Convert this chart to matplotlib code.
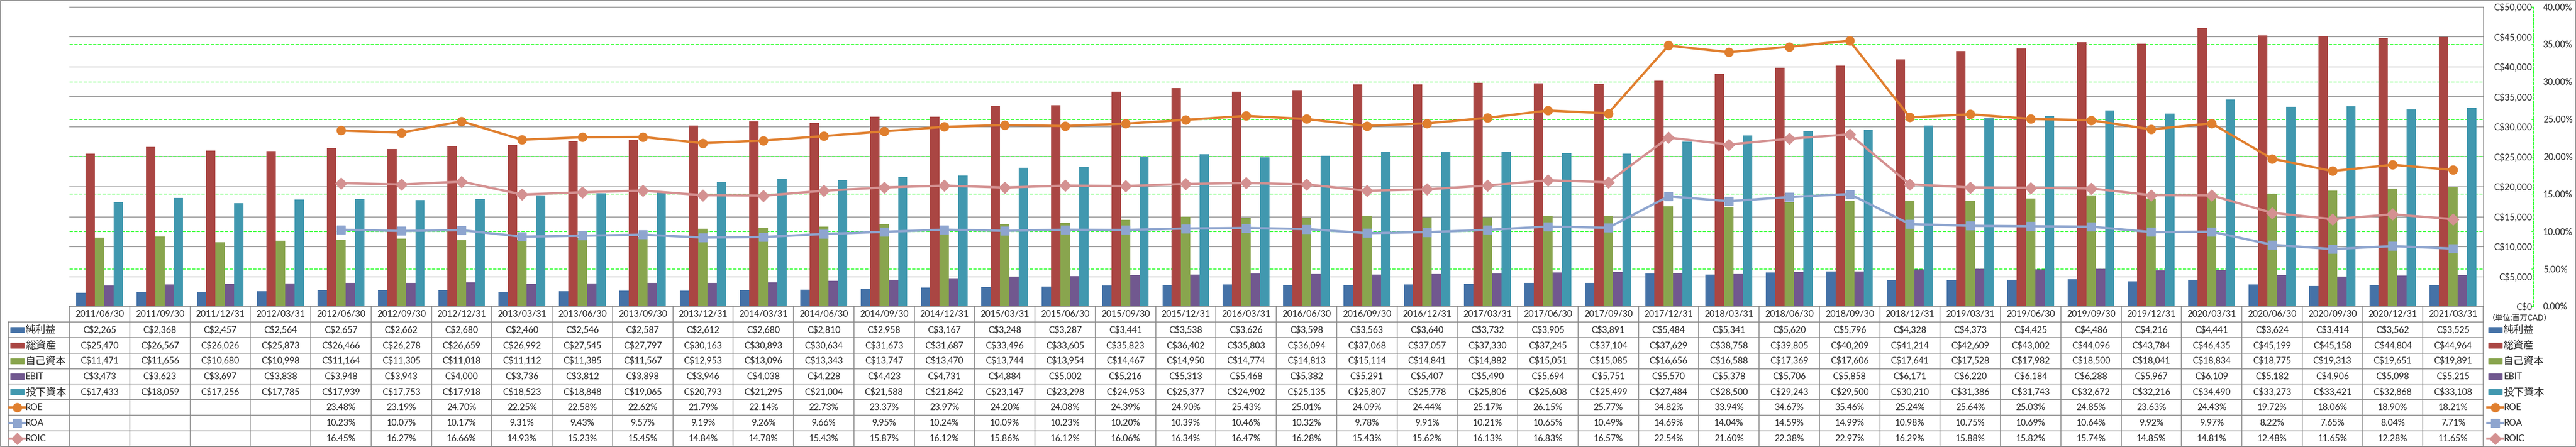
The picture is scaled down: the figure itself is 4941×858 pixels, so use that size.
import numpy as np
import matplotlib.pyplot as plt
from matplotlib.patches import Rectangle

plt.rcParams['font.family'] = ['Lato', 'Noto Sans CJK JP']

dates = ["2011/06/30", "2011/09/30", "2011/12/31", "2012/03/31", "2012/06/30", "2012/09/30",
         "2012/12/31", "2013/03/31", "2013/06/30", "2013/09/30", "2013/12/31", "2014/03/31",
         "2014/06/30", "2014/09/30", "2014/12/31", "2015/03/31", "2015/06/30", "2015/09/30",
         "2015/12/31", "2016/03/31", "2016/06/30", "2016/09/30", "2016/12/31", "2017/03/31",
         "2017/06/30", "2017/09/30", "2017/12/31", "2018/03/31", "2018/06/30", "2018/09/30",
         "2018/12/31", "2019/03/31", "2019/06/30", "2019/09/30", "2019/12/31", "2020/03/31",
         "2020/06/30", "2020/09/30", "2020/12/31", "2021/03/31"]

# bar series (millions CAD)
net_income = [2265, 2368, 2457, 2564, 2657, 2662, 2680, 2460, 2546, 2587, 2612, 2680, 2810, 2958,
              3167, 3248, 3287, 3441, 3538, 3626, 3598, 3563, 3640, 3732, 3905, 3891, 5484, 5341,
              5620, 5796, 4328, 4373, 4425, 4486, 4216, 4441, 3624, 3414, 3562, 3525]
total_assets = [25470, 26567, 26026, 25873, 26466, 26278, 26659, 26992, 27545, 27797, 30163, 30893,
                30634, 31673, 31687, 33496, 33605, 35823, 36402, 35803, 36094, 37068, 37057, 37330,
                37245, 37104, 37629, 38758, 39805, 40209, 41214, 42609, 43002, 44096, 43784, 46435,
                45199, 45158, 44804, 44964]
equity = [11471, 11656, 10680, 10998, 11164, 11305, 11018, 11112, 11385, 11567, 12953, 13096, 13343,
          13747, 13470, 13744, 13954, 14467, 14950, 14774, 14813, 15114, 14841, 14882, 15051, 15085,
          16656, 16588, 17369, 17606, 17641, 17528, 17982, 18500, 18041, 18834, 18775, 19313, 19651,
          19891]
ebit = [3473, 3623, 3697, 3838, 3948, 3943, 4000, 3736, 3812, 3898, 3946, 4038, 4228, 4423, 4731,
        4884, 5002, 5216, 5313, 5468, 5382, 5291, 5407, 5490, 5694, 5751, 5570, 5378, 5706, 5858,
        6171, 6220, 6184, 6288, 5967, 6109, 5182, 4906, 5098, 5215]
invested_capital = [17433, 18059, 17256, 17785, 17939, 17753, 17918, 18523, 18848, 19065, 20793,
                    21295, 21004, 21588, 21842, 23147, 23298, 24953, 25377, 24902, 25135, 25807,
                    25778, 25806, 25608, 25499, 27484, 28500, 29243, 29500, 30210, 31386, 31743,
                    32672, 32216, 34490, 33273, 33421, 32868, 33108]

# ratio series (%)
roe = [None, None, None, None, 23.48, 23.19, 24.70, 22.25, 22.58, 22.62, 21.79, 22.14, 22.73, 23.37,
       23.97, 24.20, 24.08, 24.39, 24.90, 25.43, 25.01, 24.09, 24.44, 25.17, 26.15, 25.77, 34.82,
       33.94, 34.67, 35.46, 25.24, 25.64, 25.03, 24.85, 23.63, 24.43, 19.72, 18.06, 18.90, 18.21]
roa = [None, None, None, None, 10.23, 10.07, 10.17, 9.31, 9.43, 9.57, 9.19, 9.26, 9.66, 9.95,
       10.24, 10.09, 10.23, 10.20, 10.39, 10.46, 10.32, 9.78, 9.91, 10.21, 10.65, 10.49, 14.69,
       14.04, 14.59, 14.99, 10.98, 10.75, 10.69, 10.64, 9.92, 9.97, 8.22, 7.65, 8.04, 7.71]
roic = [None, None, None, None, 16.45, 16.27, 16.66, 14.93, 15.23, 15.45, 14.84, 14.78, 15.43, 15.87,
        16.12, 15.86, 16.12, 16.06, 16.34, 16.47, 16.28, 15.43, 15.62, 16.13, 16.83, 16.57, 22.54,
        21.60, 22.38, 22.97, 16.29, 15.88, 15.82, 15.74, 14.85, 14.81, 12.48, 11.65, 12.28, 11.65]

bar_names = ["純利益", "総資産", "自己資本", "EBIT", "投下資本"]
bar_colors = ["#4572A7", "#AA4643", "#89A54E", "#71588F", "#4198AF"]
line_names = ["ROE", "ROA", "ROIC"]
line_colors = ["#E07F2E", "#8EA5CF", "#D49191"]
line_markers = ["o", "s", "D"]

W, H = 4941, 858
fig = plt.figure(figsize=(W / 100, H / 100), dpi=100)

left, right, top, bottom = 133, 4763, 13, 588
ax = fig.add_axes([left / W, 1 - bottom / H, (right - left) / W, (bottom - top) / H])
x = np.arange(len(dates))
bar_w = 0.155
bar_data = [net_income, total_assets, equity, ebit, invested_capital]
for k, vals in enumerate(bar_data):
    ax.bar(x + (k - 2) * bar_w, vals, bar_w, color=bar_colors[k], zorder=3)

ax.set_xlim(-0.5, len(dates) - 0.5)
ax.set_ylim(0, 50000)
ax.set_xticks([])
yt = np.arange(0, 50001, 5000)
for v in yt[1:]:
    ax.axhline(v, color='#868686', lw=1.0, zorder=1)
for s in ['left', 'top', 'bottom']:
    ax.spines[s].set_visible(False)
ax.spines['right'].set_color('#868686')

pt = np.arange(0, 41, 5)
for p in pt[1:-1]:
    ax.axhline(p / 40 * 50000, color='#00FF00', lw=1.0, ls=(0, (4.5, 2)), zorder=1)

ax2 = ax.twinx()
ax2.set_ylim(0, 40)
ax2.set_yticks(pt)
ax2.set_yticklabels([f"{p:.2f}%" for p in pt])
ax2.spines['right'].set_position(('outward', 96 * 0.72))
ax2.spines['right'].set_color('#00FF00')
ax2.spines['right'].set_linestyle((0, (4.5, 2)))
for s in ['left', 'top', 'bottom']:
    ax2.spines[s].set_visible(False)
ax2.tick_params(axis='y', direction='in', length=3, color='#00FF00', pad=13.5,
                labelsize=12.2, labelcolor='#222222')

# primary value labels sit on the right, right-aligned against the green axis
ax.set_yticks(yt)
ax.set_yticklabels([f"C${v:,}" for v in yt])
ax.yaxis.tick_right()
ax.tick_params(axis='y', length=0, pad=67.5, labelsize=12.2, labelcolor='#222222')
for tk in ax.yaxis.get_major_ticks():
    tk.label2.set_horizontalalignment('right')

line_data = [np.array(roe, dtype=float), np.array(roa, dtype=float), np.array(roic, dtype=float)]
for k, vals in enumerate(line_data):
    ax2.plot(x, vals, color=line_colors[k], lw=3.2, marker=line_markers[k],
             ms=12 if k == 0 else 11, zorder=4)

# data table under the chart
tab = fig.add_axes([left / W, 1 - 857 / H, (right - left) / W, (857 - bottom) / H])
tab.set_xlim(-0.5, len(dates) - 0.5)
tab.set_ylim(9, 0)
tab.axis('off')
cw = (right - left) / len(dates)
hx0 = -0.5 - (left - 16) / cw
gc = '#868686'
tab.plot([-0.5, 39.5], [0, 0], color=gc, lw=1.1, clip_on=False)
for r in range(1, 10):
    tab.plot([hx0, 39.5], [r, r], color=gc, lw=1.1, clip_on=False)
for i in range(len(dates) + 1):
    tab.plot([i - 0.5, i - 0.5], [0, 9], color=gc, lw=1.1, clip_on=False)
tab.plot([hx0, hx0], [1, 9], color=gc, lw=1.1, clip_on=False)

for i, d in enumerate(dates):
    tab.text(i, 0.5, d, ha='center', va='center', fontsize=12.2, color='#222222')
rows = [[f"C${v:,}" for v in vals] for vals in bar_data]
rows += [["" if v is None else f"{v:.2f}%" for v in vals] for vals in [roe, roa, roic]]
for r, row in enumerate(rows):
    for i, s in enumerate(row):
        tab.text(i, r + 1.5, s, ha='center', va='center', fontsize=12.2, color='#222222')

names = bar_names + line_names
kx0 = -0.5 - (left - 20) / cw
kx1 = -0.5 - (left - 46) / cw
tx = -0.5 - (left - 49) / cw
rkx0 = 39.5 + 10 / cw
rkx1 = 39.5 + 36 / cw
rtx = 39.5 + 39 / cw
for r, name in enumerate(names):
    yc = r + 1.5
    for a, b, t in [(kx0, kx1, tx), (rkx0, rkx1, rtx)]:
        if r < 5:
            tab.add_patch(Rectangle((a, yc - 0.17), b - a, 0.34, color=bar_colors[r], clip_on=False))
        else:
            k = r - 5
            tab.plot([a - 0.02, b + 0.02], [yc, yc], color=line_colors[k], lw=3.2, clip_on=False)
            tab.plot([(a + b) / 2], [yc], color=line_colors[k], marker=line_markers[k],
                     ms=12 if k == 0 else 11, clip_on=False)
        fs = 14 if r in (0, 1, 2, 4) else 12.2
        tab.text(t, yc, name, ha='left', va='center', fontsize=fs, color='#222222', clip_on=False)

fig.text(4772 / W, 1 - 611 / H, "（単位:百万CAD）", ha='left', va='center', fontsize=10.5,
         color='#222222')

fig.add_artist(Rectangle((0.0002, 0.001), 0.9996, 0.998, transform=fig.transFigure, fill=False,
                         edgecolor='#868686', lw=1.2))

fig.savefig("out.png", dpi=100)
